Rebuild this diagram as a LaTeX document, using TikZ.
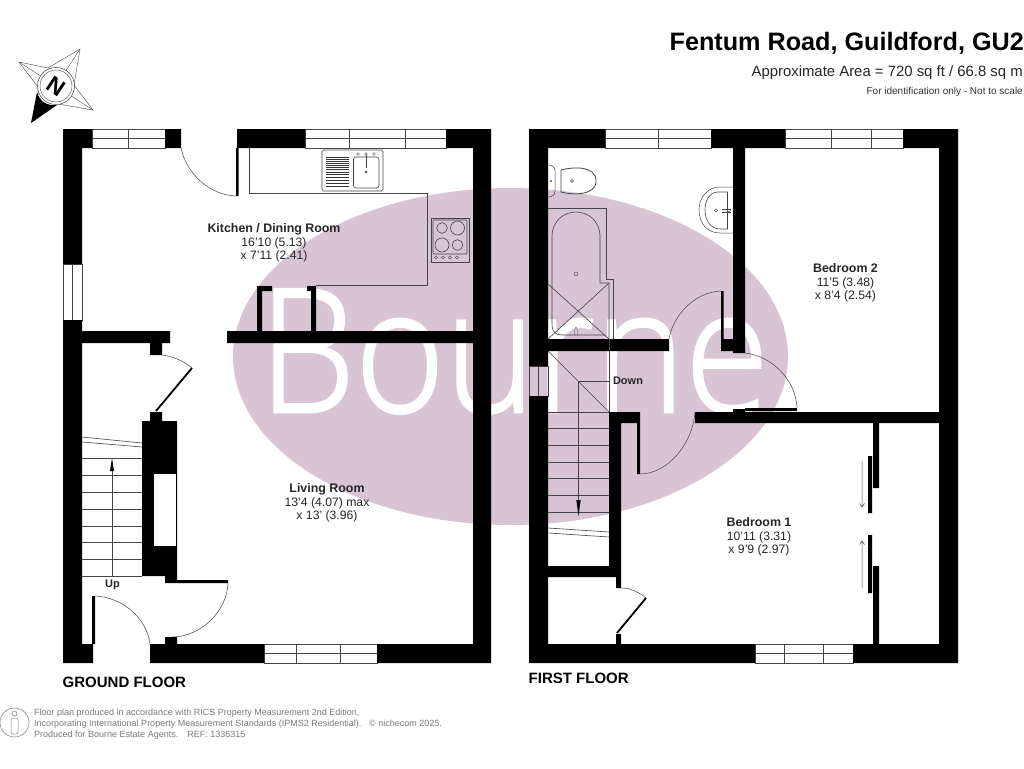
\documentclass[tikz,border=0pt]{standalone}
\usepackage{fontspec}
\setmainfont{Liberation Sans}
\newfontfamily\wmfont[RawFeature={embolden=1.6}]{Open Sans Light}
\definecolor{wmark}{HTML}{D9C4D4}
\definecolor{foot}{HTML}{7A7A7A}
\definecolor{fix}{HTML}{444444}
\tikzset{
  wall/.style={fill=black},
  fine/.style={draw=fix,line width=0.6pt},
  win/.style={draw=fix,line width=0.8pt},
  arcline/.style={draw=fix,line width=0.5pt},
  leaf/.style={draw=black,line width=1.8pt},
  room/.style={font=\fontsize{12.2}{13.6}\selectfont,align=center,text=black!85},
  footnote/.style={font=\fontsize{9}{10.6}\selectfont,text=foot,anchor=base west,inner sep=0pt},
  floorlabel/.style={font=\bfseries\fontsize{15}{16}\selectfont,anchor=base west,inner sep=0pt},
}
\newcommand{\hwin}[5]{% x1 x2 y1 y2 mullions
  \draw[win] (#1,#3) rectangle (#2,#4) (#1,{(#3+#4)/2}) -- (#2,{(#3+#4)/2});
  \foreach \m in {#5} {\draw[win] (\m,#3) -- (\m,#4);}
}
\newcommand{\rn}[1]{{\bfseries\fontsize{12.4}{13.6}\selectfont #1}}
\begin{document}
\begin{tikzpicture}[x=1pt,y=-1pt]
\useasboundingbox (0,0) rectangle (1024,768);
\fill[white] (0,0) rectangle (1024,768);
% watermark
\fill[wmark] (510.5,356.5) ellipse [x radius=277.5,y radius=168.5];
\node[inner sep=0pt,anchor=base west,text=white,font=\wmfont\fontsize{172}{172}\selectfont,xscale=0.89] (wm) at (259,412) {Bourne};

% ---- windows ----
\hwin{92}{165}{129}{148}{128}
\hwin{305}{446}{129}{148}{349,405}
\hwin{264}{377}{644}{663}{296,340}
\hwin{605}{711}{129}{148}{658}
\hwin{785}{903}{129}{148}{831,871}
\hwin{755}{853}{644}{663}{784,823}
\draw[win] (63,264) rectangle (82,320) (72.5,264) -- (72.5,320);
\draw[win] (529,366) rectangle (548,396) (538.5,366) -- (538.5,396);

% ---- ground floor walls ----
\fill[wall]
  (63,129) rectangle (92,148)
  (165,129) rectangle (181,148)
  (237,129) rectangle (305,148)
  (446,129) rectangle (491,148)
  (63,148) rectangle (82,264)
  (63,320) rectangle (82,663)
  (473,129) rectangle (491,663)
  (63,644) rectangle (93,663)
  (150,644) rectangle (264,663)
  (377,644) rectangle (491,663)
  (82,331) rectangle (170,343)
  (150,343) rectangle (162,355)
  (227,331) rectangle (473,343)
  (257,286) rectangle (262,331)
  (257,286) rectangle (272,291)
  (311,286) rectangle (316,331)
  (307,286) rectangle (316,291)
  (150,412) rectangle (162,421)
  (142,421) rectangle (177,576)
  (165,576) rectangle (177,583)
  (170,580) rectangle (228,583)
  (165,637) rectangle (177,644)
  (236,148) rectangle (238.5,196)
  (92,596) rectangle (95,644);
\fill[white] (154,474) rectangle (176,546);
% ground doors
\draw[arcline] (181,148) .. controls (186,172) and (208,195) .. (236,196);
\draw[arcline] (162,355) .. controls (172,356) and (184,361) .. (192,368);
\draw[leaf] (156,411) -- (192,368);
\draw[arcline] (228,583) .. controls (227,612) and (200,637) .. (172,637);
\draw[arcline] (95,596) .. controls (122,597) and (147,618) .. (150,644);
% ground stairs
\foreach \yy in {458,475,492,509,526,542,559,576} \draw[fine] (82,\yy) -- (142,\yy);
\draw[fine] (82,437) -- (142,443) (82,442) -- (142,447);
\draw[draw=fix,line width=0.6pt] (112,576) -- (112,466);
\fill[black] (112,458) -- (114,471) -- (110,471) -- cycle;
\node[font=\bfseries\fontsize{11}{12}\selectfont,inner sep=0pt,text=black!85] (up) at (112.5,585) {Up};

% ---- kitchen ----
\draw[fine] (249,148) -- (249,193) -- (427,193) -- (427,285) -- (316,285);
% sink
\draw[fine,fill=white,rounded corners=1.5pt] (322,150) rectangle (383,191);
\foreach \yy in {157,159,161,163,165,167,169.5,172,174.5,177,180,183.5,186.5} \draw[draw=black!80,line width=0.6pt] (326,\yy) -- (349,\yy);
\draw[fine,rounded corners=2.5pt] (353.5,157) rectangle (379,188);
\draw[draw=fix,line width=0.9pt] (366,155) -- (366,168);
\draw[fine] (366,172) circle (1);
\foreach \xx in {358,366,374} \draw[fine,line width=0.4pt] (\xx,154) circle (1.3);
% hob
\draw[fine] (431,218) rectangle (469,262);
\draw[fine,rounded corners=1pt] (433,220) rectangle (467,254);
\draw[fine] (442,228) circle (5.3) (457.5,228) circle (7) (442,245) circle (7) (457.5,245) circle (5.3);
\foreach \xx in {436,443,450,457} \draw[fine,line width=0.4pt] (\xx,257.5) circle (1.6);

% ---- first floor walls ----
\fill[wall]
  (529,129) rectangle (605,148)
  (711,129) rectangle (785,148)
  (903,129) rectangle (958,148)
  (529,148) rectangle (548,366)
  (529,396) rectangle (548,663)
  (939,129) rectangle (958,663)
  (529,644) rectangle (755,663)
  (853,644) rectangle (958,663)
  (548,339) rectangle (669,351)
  (733,148) rectangle (745,353)
  (721,291) rectangle (723.5,340)
  (721,339) rectangle (733,351)
  (609,412) rectangle (639,423)
  (609,412) rectangle (621,566)
  (548,566) rectangle (621,577)
  (616,566) rectangle (621,588)
  (616,634) rectangle (621,644)
  (637,412) rectangle (640,474)
  (695,412) rectangle (939,423)
  (733,409) rectangle (745,412)
  (745,408) rectangle (797,411)
  (873,423) rectangle (879,488)
  (873,566) rectangle (879,644)
  (868,456) rectangle (872,513)
  (868,535) rectangle (872,593);
% first doors
\draw[arcline] (669,339) .. controls (673,315) and (695,292) .. (721,291);
\draw[arcline] (745,353) .. controls (772,356) and (796,380) .. (797,408);
\draw[arcline] (640,474) .. controls (668,474) and (693,443) .. (695,412);
\draw[arcline] (621,588) .. controls (630,588) and (639,592) .. (646,598);
\draw[leaf] (617,633) -- (646,598);
% bathroom
\draw[fine] (548,208) -- (606,208) -- (606,279) -- (613,279) -- (613,339);
\draw[fine] (562,335) -- (605,335) (552,323) .. controls (552,332) and (555,335) .. (562,335);
\draw[fine] (552,323) -- (552,236) .. controls (552,222) and (563,212) .. (576,212) .. controls (589,212) and (600,222) .. (600,236) -- (600,283) -- (609,283) -- (609,339);
\draw[fine] (548,284) -- (609,339) (609,283) -- (548,339);
\draw[fine,line width=0.4pt] (576,274) circle (2);
\draw[fine,line width=0.4pt] (574.5,336) -- (574.5,330) -- (576,327) -- (577.5,330) -- (577.5,336);
% toilet
\draw[fine,line width=0.5pt] (548,165) .. controls (552,165) and (555,167) .. (555,171) -- (555,191) .. controls (555,195) and (552,197) .. (548,197);
\draw[draw=fix,line width=0.8pt] (561,170) .. controls (572,167) and (596,165) .. (596,181) .. controls (596,196) and (572,195) .. (561,192) -- cycle;
\draw[fine,line width=0.4pt] (572,181) circle (1.5) (551,181) circle (0.8);
% basin
\draw[fine,line width=0.5pt] (733,187) -- (720,187) .. controls (707,187) and (699,198) .. (699,210) .. controls (699,223) and (707,233) .. (720,233) -- (733,233);
\draw[fine,line width=0.6pt] (727.5,192) -- (718,192) .. controls (710,192) and (705,200) .. (705,210) .. controls (705,221) and (711,229) .. (720,229) -- (727.5,229) -- cycle;
\draw[fine,line width=0.35pt] (716,210.5) circle (1.6) (729,210.5) circle (1.6);
\draw[fine,line width=0.35pt] (722,209.3) -- (731,209.3) (722,211.7) -- (731,211.7);
% first stairs
\draw[fine] (609,339) -- (609,412);
\draw[fine] (548,351) -- (609,412);
\foreach \yy in {412,428,445,462,478,495,512} \draw[fine] (548,\yy) -- (609,\yy);
\draw[fine] (548,528) -- (609,532) (548,533) -- (609,537);
\draw[fine] (610,381) -- (578.5,381) -- (578.5,505);
\fill[black] (578.5,516) -- (576.3,500) -- (580.7,500) -- cycle;
\node[font=\bfseries\fontsize{11}{12}\selectfont,inner sep=0pt,text=black!85] (down) at (628,381) {Down};
% wardrobe arrows
\draw[fine,line width=0.5pt] (862,461) -- (862,507) (859.5,503.5) -- (862,507) -- (864.5,503.5);
\draw[fine,line width=0.5pt] (862,588) -- (862,541) (859.5,544.5) -- (862,541) -- (864.5,544.5);

% ---- room labels ----
\node[room] (kit) at (274,243) {\rn{Kitchen / Dining Room}\\16'10 (5.13)\\x 7'11 (2.41)};
\node[room] (liv) at (327,503) {\rn{Living Room}\\13'4 (4.07) max\\x 13' (3.96)};
\node[room] (bed2) at (845.5,283) {\rn{Bedroom 2}\\11'5 (3.48)\\x 8'4 (2.54)};
\node[room] (bed1) at (759,537) {\rn{Bedroom 1}\\10'11 (3.31)\\x 9'9 (2.97)};

% ---- header ----
\node[inner sep=0pt,anchor=base east,font=\bfseries\fontsize{25.2}{27}\selectfont] (title) at (1024,50) {Fentum Road, Guildford, GU2};
\node[inner sep=0pt,anchor=base east,font=\fontsize{14.9}{16}\selectfont,text=black!85] (area) at (1023,76) {Approximate Area = 720 sq ft / 66.8 sq m};
\node[inner sep=0pt,anchor=base east,font=\fontsize{10}{12}\selectfont,text=black!80] (ident) at (1023,94) {For identification only - Not to scale};

% ---- floor names ----
\node[floorlabel] (gf) at (62.5,687) {GROUND FLOOR};
\node[floorlabel] (ff) at (528.5,683) {FIRST FLOOR};

% ---- footer ----
\node[footnote] (f1) at (34,715) {Floor plan produced in accordance with RICS Property Measurement 2nd Edition,};
\node[footnote] (f2) at (34,726) {Incorporating International Property Measurement Standards (IPMS2 Residential).};
\node[footnote] (f3) at (34,737) {Produced for Bourne Estate Agents.\quad REF: 1336315};
\node[footnote] (f4) at (369,726) {© nichecom 2025.};
\draw[draw=foot,line width=0.5pt] (14.5,722.5) circle (14.5);
\draw[draw=foot,line width=0.5pt] (14.5,713.5) circle (2.6);
\draw[draw=foot,line width=0.5pt,rounded corners=2pt] (11,718) rectangle (18,734);

% ---- compass ----
\draw[fine,line width=0.4pt,fill=white] (19,62) -- (48,68) -- (80,49) -- (74,85) -- (93,110) -- (58,104) -- (38,93) -- (38,87) -- cycle;
\draw[fine,line width=0.35pt] (19,62) -- (56,86) (80,49) -- (56,86) (93,110) -- (56,86);
\fill[black] (31,123) -- (37,92) .. controls (40,102) and (47,106) .. (57,105) -- cycle;
\draw[fine,line width=0.5pt,fill=white] (56,86) circle (18.5);
\draw[fine,line width=0.4pt] (56,86) circle (16);
\node[font=\bfseries\fontsize{23}{24}\selectfont,rotate=146,inner sep=0pt] (north) at (56,86) {N};
\end{tikzpicture}
\end{document}
